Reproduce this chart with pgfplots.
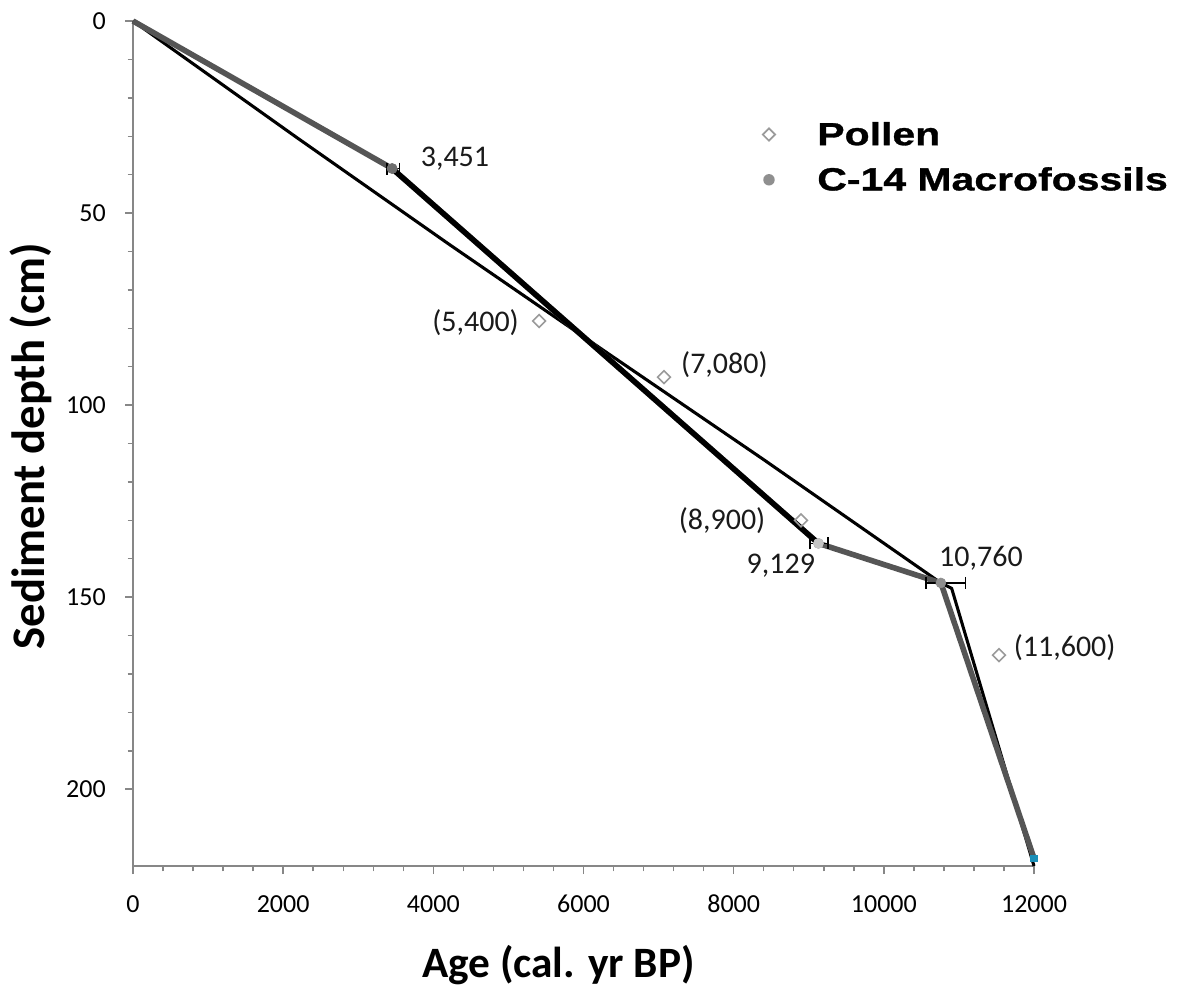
\documentclass[border=0pt]{standalone}
\usepackage{fontspec}
\setmainfont{Carlito}
\newfontfamily\legfont[FakeStretch=1.28,FakeBold=1]{Liberation Sans}
\usepackage{pgfplots}
\pgfplotsset{compat=1.18}
\definecolor{axgray}{HTML}{878787}
\definecolor{linegray}{HTML}{555555}
\definecolor{pgray}{HTML}{9A9A9A}
\definecolor{dotgray}{HTML}{8F8F8F}
\definecolor{darkdot}{HTML}{6E6E6E}
\definecolor{lightdot}{HTML}{C4C4C4}
\definecolor{cyanend}{HTML}{1A8FB8}
\definecolor{lblcol}{HTML}{1A1A1A}
\tikzset{lbl/.style={anchor=base, inner sep=0pt, text=lblcol, font=\fontsize{22.5}{26}\selectfont}}
\begin{document}
\begin{tikzpicture}
\begin{axis}[
  scale only axis, width=675.75pt, height=633.75pt,
  xmin=0, xmax=12000, ymin=0, ymax=220, y dir=reverse,
  axis x line=bottom, axis y line=left,
  x axis line style={-}, y axis line style={-},
  axis line style={draw=axgray, line width=1.5pt},
  xtick={0,2000,...,12000}, ytick={0,50,...,200},
  scaled x ticks=false,
  minor x tick num=4, minor y tick num=4,
  tick align=outside,
  major tick length=6pt, minor tick length=4pt,
  tick style={draw=axgray, line width=1.1pt},
  tick label style={font=\fontsize{19.5}{23}\selectfont, text=black},
  /pgf/number format/assume math mode=true,
  /pgf/number format/1000 sep={},
  xticklabel style={anchor=base, yshift=-28.5pt},
  yticklabel style={anchor=east, inner sep=0pt, xshift=-14.25pt},
  xlabel={Age (cal. yr BP)}, ylabel={Sediment depth (cm)},
  every axis x label/.style={at={(axis description cs:0.4723,-0.1325)}, anchor=base, font=\bfseries\fontsize{32.5}{37}\selectfont},
  every axis y label/.style={at={(axis description cs:-0.0977,0.497)}, anchor=base, rotate=90, font=\bfseries\fontsize{35}{39}\selectfont},
  clip=false,
  legend style={draw=none, fill=none, at={(axis description cs:0.6978,0.8808)}, anchor=north west, inner sep=0pt, row sep=15pt, column sep=31pt, font=\legfont\bfseries\fontsize{24}{28}\selectfont, nodes={inner sep=0pt}},
  legend cell align=left,
]
% legend images
\addlegendimage{legend image code/.code={\path[draw=none, fill=none] (-5pt,-5pt) rectangle (5pt,5pt);
    \draw[draw=pgray, line width=1.3pt, fill=white] (0pt,4.6pt) -- (4.6pt,0pt) -- (0pt,-4.6pt) -- (-4.6pt,0pt) -- cycle;}}
\addlegendentry{Pollen}
\addlegendimage{legend image code/.code={\path[draw=none, fill=none] (-5pt,-5pt) rectangle (5pt,5pt);
    \fill[dotgray, draw=none] (0pt,0pt) circle (4.3pt);}}
\addlegendentry{C-14 Macrofossils}
% thin black age-depth line
\addplot[black, line width=2.3pt, line join=round, forget plot] coordinates {
  (0,0) (2200,30.6) (4200,58.0) (6300,86.2) (8400,114.2) (10760,146.3) (10903,147.7) (12000,220)};
% thick grey line
\addplot[linegray, line width=4.2pt, line join=round, forget plot] coordinates {
  (0,0) (3451,38.4) (9129,136) (10760,146.3) (12000,218)};
% thick black segment
\addplot[black, line width=4pt, forget plot] coordinates {(3451,38.4) (9129,136)};
% pollen
\addplot[only marks, mark=square, mark size=3.4pt, mark options={rotate=45, draw=pgray, fill=white, line width=1.2pt}, forget plot] coordinates {
  (5408,78.1) (7072,92.7) (8897,130) (11534,165.1)};
% C-14
\addplot[only marks, mark=*, mark size=3.75pt, color=dotgray, forget plot,
  error bars/.cd, x dir=both, x explicit,
  error bar style={black, line width=1.2pt},
  error mark options={black, line width=1.2pt, mark size=4.5pt, rotate=90}] coordinates {
  (3451,38.4) += (100,0) -= (70,0)
  (9129,136) += (125,0) -= (115,0)
  (10760,146.3) += (330,0) -= (195,0)};
\addplot[only marks, mark=*, mark size=3.75pt, color=darkdot, forget plot] coordinates {(3451,38.4)};
\addplot[only marks, mark=*, mark size=3.75pt, color=lightdot, forget plot] coordinates {(9129,136)};
\addplot[only marks, mark=square*, mark size=2.5pt, color=cyanend, forget plot] coordinates {(11995,218)};
% data labels
\node[lbl] at (axis cs:4288,37.75) {3,451};
\node[lbl] at (axis cs:4562,80.9) {(5,400)};
\node[lbl] at (axis cs:7877,91.7) {(7,080)};
\node[lbl] at (axis cs:7845,132.5) {(8,900)};
\node[lbl] at (axis cs:8628,143.8) {9,129};
\node[lbl] at (axis cs:11294,141.9) {10,760};
\node[lbl] at (axis cs:12408,165.5) {(11,600)};
\coordinate (sw) at (axis cs:0,220);
\end{axis}
\pgfresetboundingbox
\path[use as bounding box] ([shift={(-99.75pt,-98.25pt)}]sw) rectangle ([shift={(801pt,649.5pt)}]sw);
\end{tikzpicture}
\end{document}
